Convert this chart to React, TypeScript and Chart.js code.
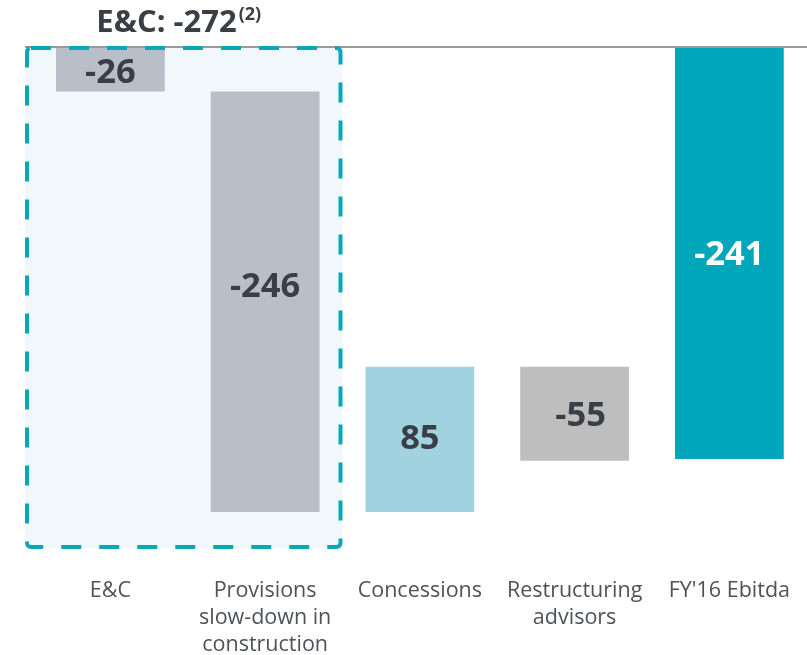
import React, { useEffect, useRef } from 'react';
import { Chart, registerables } from 'chart.js';

Chart.register(...registerables);

const categories: (string | string[])[] = [
  'E&C',
  ['Provisions', 'slow-down in', 'construction'],
  'Concessions',
  ['Restructuring', 'advisors'],
  "FY'16 Ebitda",
];
const changes = [-26, -246, 85, -55];
const total = -241;
const titleMain = 'E&C: -272';
const titleNote = '(2)';
const barColors = ['#b8bfc6', '#b8bfc6', '#a0d2e0', '#bebebe', '#00a6ba'];
const valueColors = ['#3a3f46', '#3a3f46', '#3a3f46', '#3a3f46', '#ffffff'];
const groupFirst = 0;
const groupLast = 1;
const groupBottomValue = -293;
// label nudges in px (style)
const labelDx = [0, 0, 0, 6, 0];
const labelDy = [1, -17, -3, 0, 0];

function buildRanges(): [number, number][] {
  const out: [number, number][] = [];
  let run = 0;
  for (const c of changes) {
    out.push([run, run + c]);
    run += c;
  }
  out.push([0, total]);
  return out;
}
const valueLabels = [...changes, total];

const FONT = '"Open Sans", "Noto Sans", sans-serif';

export default function App() {
  const ref = useRef<HTMLCanvasElement | null>(null);
  useEffect(() => {
    if (!ref.current) return;
    const geom = (chart: any) => {
      const x = chart.scales.x;
      const y = chart.scales.y;
      const half = (x.getPixelForValue(1) - x.getPixelForValue(0)) / 2;
      return {
        left: x.getPixelForValue(groupFirst) - half - 8,
        right: x.getPixelForValue(groupLast) + half,
        top: y.getPixelForValue(0),
        bottom: y.getPixelForValue(groupBottomValue),
      };
    };
    const overlay = {
      id: 'overlay',
      beforeDatasetsDraw(chart: any) {
        const { ctx } = chart;
        const { left, right, top, bottom } = geom(chart);
        ctx.save();
        ctx.fillStyle = '#f0f8fb';
        ctx.fillRect(left, top, right - left, bottom - top);
        ctx.restore();
      },
      afterDatasetsDraw(chart: any) {
        const { ctx } = chart;
        const { left, right, top, bottom } = geom(chart);
        ctx.save();
        // zero line
        ctx.strokeStyle = '#9a9a9a';
        ctx.lineWidth = 2;
        ctx.beginPath();
        ctx.moveTo(left, top);
        ctx.lineTo(chart.width, top);
        ctx.stroke();
        // dashed box
        ctx.strokeStyle = '#0aa7b8';
        ctx.lineWidth = 4;
        ctx.setLineDash([20, 18]);
        ctx.beginPath();
        ctx.roundRect(left + 2, top + 1, right - left - 4, bottom - top - 2, 4);
        ctx.stroke();
        ctx.setLineDash([]);
        // value labels
        const meta = chart.getDatasetMeta(0);
        const fs = 34.5;
        ctx.font = `bold ${fs}px ${FONT}`;
        ctx.textAlign = 'center';
        ctx.textBaseline = 'alphabetic';
        meta.data.forEach((bar: any, i: number) => {
          ctx.fillStyle = valueColors[i];
          const cy = (bar.y + bar.base) / 2 + labelDy[i];
          ctx.fillText(String(valueLabels[i]), bar.x + labelDx[i], cy + fs * 0.714 / 2);
        });
        // title
        ctx.font = `bold 31px ${FONT}`;
        const w1 = ctx.measureText(titleMain).width;
        ctx.font = `bold 18px ${FONT}`;
        const w2 = ctx.measureText(titleNote).width;
        const cx = (left + right) / 2 - 5;
        const sx = cx - (w1 + w2 + 2) / 2;
        ctx.textAlign = 'left';
        ctx.fillStyle = '#3a3f46';
        ctx.font = `bold 31px ${FONT}`;
        ctx.fillText(titleMain, sx, 32);
        ctx.font = `bold 18px ${FONT}`;
        ctx.fillText(titleNote, sx + w1 + 2, 20);
        ctx.restore();
      },
    };
    const chart = new Chart(ref.current, {
      type: 'bar',
      data: {
        labels: categories,
        datasets: [
          {
            data: buildRanges() as any,
            backgroundColor: barColors,
            borderWidth: 0,
            barPercentage: 0.703,
            categoryPercentage: 1,
          },
        ],
      },
      options: {
        responsive: false,
        animation: false,
        devicePixelRatio: 1,
        layout: { padding: { top: 47, left: 33, right: 0, bottom: 0 } },
        plugins: { legend: { display: false }, tooltip: { enabled: false }, title: { display: false } },
        scales: {
          x: {
            grid: { display: false, drawTicks: false },
            border: { display: false },
            ticks: {
              color: '#4d5359',
              font: { family: FONT, size: 21.5, lineHeight: 1.235 },
              padding: 18,
              maxRotation: 0,
              minRotation: 0,
              autoSkip: false,
            },
            afterFit: (s: any) => {
              s.height = 95;
            },
          },
          y: {
            display: false,
            min: -300,
            max: 0,
          },
        },
      },
      plugins: [overlay],
    });
    return () => chart.destroy();
  }, []);
  return (
    <div style={{ position: 'fixed', left: 0, top: 0, width: 807, height: 655, overflow: 'hidden' }}>
      <canvas ref={ref} width={808} height={655} />
    </div>
  );
}
